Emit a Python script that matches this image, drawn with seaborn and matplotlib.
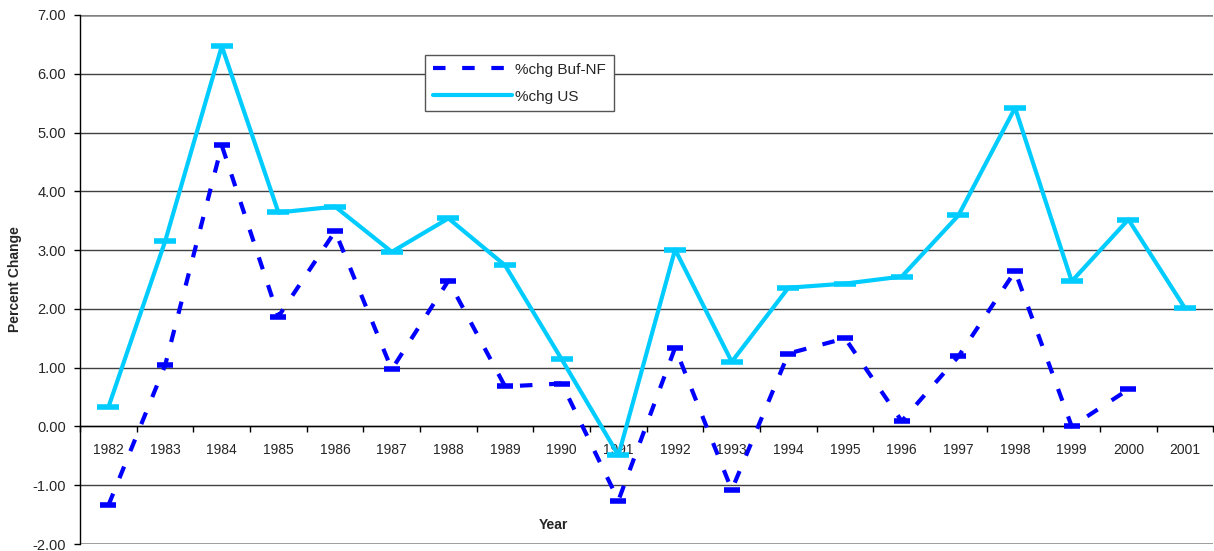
import numpy as np
import pandas as pd
import matplotlib
matplotlib.use("Agg")
import matplotlib.pyplot as plt
import seaborn as sns

# --- Dados ---
years = [str(y) for y in range(1982, 2002)]
chg_buf_nf = [-1.34, 1.04, 4.78, 1.87, 3.32, 0.97, 2.48, 0.68, 0.73, -1.26,
              1.34, -1.08, 1.24, 1.50, 0.09, 1.19, 2.64, 0.00, 0.63, np.nan]
chg_us = [0.33, 3.15, 6.47, 3.64, 3.74, 2.97, 3.54, 2.74, 1.14, -0.49,
          3.01, 1.10, 2.36, 2.43, 2.55, 3.59, 5.42, 2.47, 3.52, 2.01]
y_ticks = [-2, -1, 0, 1, 2, 3, 4, 5, 6, 7]

df = pd.DataFrame({
    'idx': np.arange(len(years)),
    'Year': years,
    'Buf': chg_buf_nf,
    'US': chg_us,
})

sns.set_theme(style="white")
plt.rcParams['font.family'] = ['Liberation Sans', 'DejaVu Sans']

fig = plt.figure(figsize=(12.14, 5.51), dpi=100)
ax = fig.add_axes([0.066, 0.0127, 0.9335, 0.9601])

# grade horizontal
for v in y_ticks:
    c = '#808080' if v in (-2, 7) else '#404040'
    lw = 1.8 if v in (-2, 7) else 1.0
    ax.axhline(v, color=c, lw=lw, zorder=0)

blue = '#0000FF'
cyan = '#00CCFF'

df_buf = df.dropna(subset=['Buf'])
sns.lineplot(data=df_buf, x='idx', y='Buf', ax=ax, color=blue,
             linewidth=3, marker='_', markersize=12, markeredgewidth=4,
             markeredgecolor=blue, markerfacecolor=blue,
             label='%chg Buf-NF', zorder=3)
ax.lines[-1].set_dashes((3, 4))
sns.lineplot(data=df, x='idx', y='US', ax=ax, color=cyan,
             linewidth=3, marker='_', markersize=16, markeredgewidth=4,
             markeredgecolor=cyan, markerfacecolor=cyan,
             label='%chg US', zorder=4)

ax.set_xlim(-0.5, len(years) - 0.5)
ax.set_ylim(-2, 7)
ax.set_yticks(y_ticks)
ax.set_yticklabels([f'{v:.2f}' for v in y_ticks], fontsize=10.5)

# eixo x na linha do zero
ax.spines['bottom'].set_position(('data', 0))
ax.spines['bottom'].set_color('black')
ax.spines['bottom'].set_linewidth(1.0)
ax.spines['left'].set_color('black')
ax.spines['left'].set_linewidth(1.0)
ax.spines['top'].set_visible(False)
ax.spines['right'].set_visible(False)

ax.set_xticks(np.arange(len(years) + 1) - 0.5)
ax.set_xticklabels([])
ax.set_xticks(np.arange(len(years)), minor=True)
ax.set_xticklabels(years, minor=True, fontsize=10)
ax.tick_params(axis='x', which='major', direction='out', length=4,
               width=1, color='black', bottom=True)
ax.tick_params(axis='x', which='minor', length=0, pad=12, bottom=True)
ax.tick_params(axis='y', direction='out', length=4, width=1,
               color='black', left=True, pad=6)

ax.set_xlabel('Year', fontsize=10, fontweight='bold')
ax.xaxis.set_label_coords(0.418, 0.049)
ax.set_ylabel('Percent Change', fontsize=10, fontweight='bold', labelpad=8)

leg = ax.legend(loc='upper left', bbox_to_anchor=(0.3045, 0.924), fontsize=11,
                frameon=True, fancybox=False, framealpha=1, borderpad=0.5,
                handlelength=5.2, labelspacing=0.85, handletextpad=0.2,
                borderaxespad=0)
for h in leg.legend_handles:
    h.set_marker('')
leg.get_frame().set_edgecolor('#555555')
leg.get_frame().set_linewidth(1.0)

fig.savefig('out.png', dpi=100)
